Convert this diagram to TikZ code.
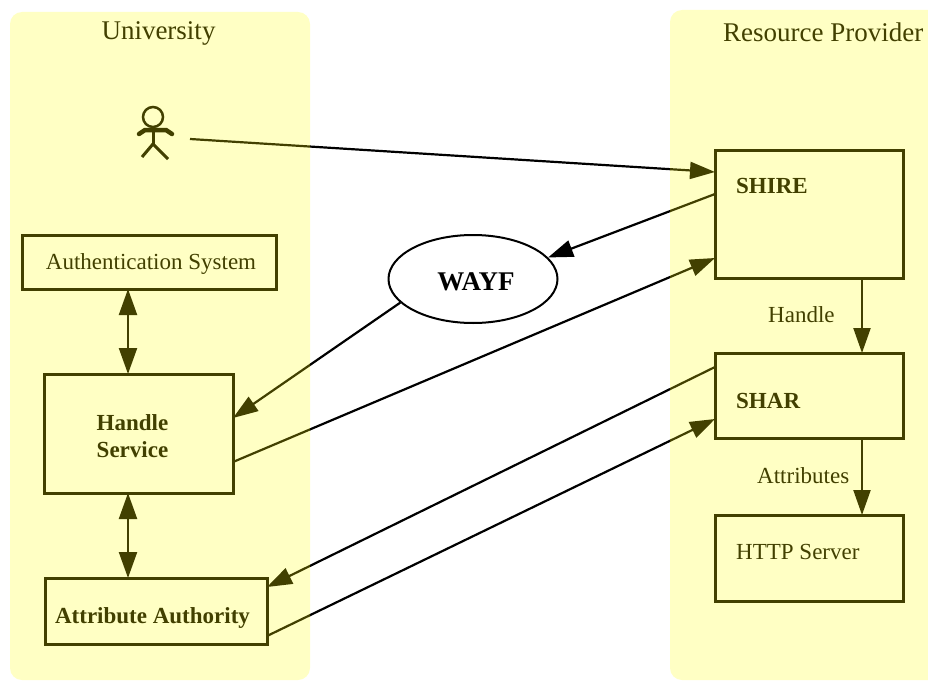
\documentclass[tikz,border=0pt]{standalone}
\usepackage{fontspec}
\setmainfont{Liberation Serif}
\usetikzlibrary{arrows.meta,calc,shapes.geometric}
\definecolor{panel}{RGB}{255,255,196}
\definecolor{olive}{RGB}{66,64,0}
\newcommand\myconns{%
  \draw[conn] (person) -- ($(shire.north west)+(0,22)$);
  \draw[conn] ($(shire.north west)+(0,44)$) -- (wayf.16);
  \draw[conn] (wayf.198) -- ($(handle.north east)+(0,44)$);
  \draw[conn] ($(handle.north east)+(0,88)$) -- ($(shire.north west)+(0,108)$);
  \draw[conn] ($(shar.north west)+(0,14)$) -- ($(aa.north east)+(0,9)$);
  \draw[conn] ($(aa.north east)+(0,58)$) -- ($(shar.north west)+(0,66)$);
  \draw[conn] ($(shire.south east)+(-41,0)$) -- ($(shar.north east)+(-41,0)$);
  \draw[conn] ($(shar.south east)+(-41,0)$) -- ($(http.north east)+(-41,0)$);
  \draw[dbl] ($(auth.south)+(-21,0)$) -- ($(handle.north)+(-10.5,0)$);
  \draw[dbl] ($(handle.south)+(-10.5,0)$) -- ($(aa.north)+(-28,0)$);
}
\begin{document}
\begin{tikzpicture}[x=1pt,y=-1pt,
  box/.style={draw=olive, line width=3pt, rectangle, inner sep=0pt, outer sep=0pt},
  conn/.style={line width=2.2pt, -{Triangle[length=25pt,width=17pt]}},
  dbl/.style={line width=2.2pt, {Triangle[length=26pt,width=18pt]}-{Triangle[length=26pt,width=18pt]}},
  big/.style={font=\fontsize{27}{32}\selectfont, inner sep=0pt},
  txt/.style={font=\fontsize{23}{27}\selectfont, text=olive, inner sep=0pt},
  txtb/.style={font=\fontsize{23}{27}\selectfont\bfseries, text=olive, inner sep=0pt}]
\useasboundingbox (0,0) rectangle (928,682);
\fill[white] (0,0) rectangle (928,682);
% panels
\fill[panel, rounded corners=12pt] (10,12) rectangle (310,680);
\fill[panel, rounded corners=12pt] (670,10) rectangle (950,680);
\node[big, text=olive, anchor=base] (univ) at (158.5,40) {University};
\node[big, text=olive, anchor=base west] (rp) at (723,42) {Resource Provider};
% person
\coordinate (person) at (190,139);
\draw[olive, line width=2.5pt] (153,117) circle[radius=10];
\draw[olive, line width=4.5pt, line cap=round] (139,134) -- (145,130) -- (166,130) -- (172,134);
\draw[olive, line width=3pt] (153,127) -- (153,144);
\draw[olive, line width=3pt] (142,157) -- (153,144) -- (168,159);
% boxes
\node[box, minimum width=254pt, minimum height=54pt] (auth) at (149,262) {};
\node[txt, anchor=base] (authl) at (151,269) {Authentication System};
\node[box, minimum width=189pt, minimum height=119pt] (handle) at (138.5,433.5) {};
\node[txtb, anchor=base] (hl1) at (132.5,430) {Handle};
\node[txtb, anchor=base] (hl2) at (132.5,457) {Service};
\node[box, minimum width=222pt, minimum height=66pt] (aa) at (156,611) {};
\node[txtb, anchor=base] (aal) at (152.5,623) {Attribute Authority};
\node[box, minimum width=188pt, minimum height=128pt] (shire) at (809,214) {};
\node[txtb, anchor=base west] (shirel) at (736,193) {SHIRE};
\node[box, minimum width=188pt, minimum height=85pt] (shar) at (809,395.5) {};
\node[txtb, anchor=base west] (sharl) at (736,408) {SHAR};
\node[box, minimum width=188pt, minimum height=86pt] (http) at (809,558) {};
\node[txt, anchor=base west] (httpl) at (736,559) {HTTP Server};
\node[txt, anchor=base west] (handlel) at (768,322) {Handle};
\node[txt, anchor=base west] (attrl) at (757,483) {Attributes};
\node[ellipse, draw=black, line width=2pt, minimum width=169pt, minimum height=88pt, inner sep=0pt] (wayf) at (473,279) {};
\node[big, font=\fontsize{27}{32}\selectfont\bfseries, anchor=base] (wayfl) at (476,290) {WAYF};
% connectors: black outside panels, olive inside
\begin{scope}
  \clip (310,0) rectangle (670,682);
  \begin{scope}[color=black] \myconns \end{scope}
\end{scope}
\begin{scope}
  \clip (0,0) rectangle (310,682) (670,0) rectangle (928,682);
  \begin{scope}[color=olive] \myconns \end{scope}
\end{scope}
\end{tikzpicture}
\end{document}
